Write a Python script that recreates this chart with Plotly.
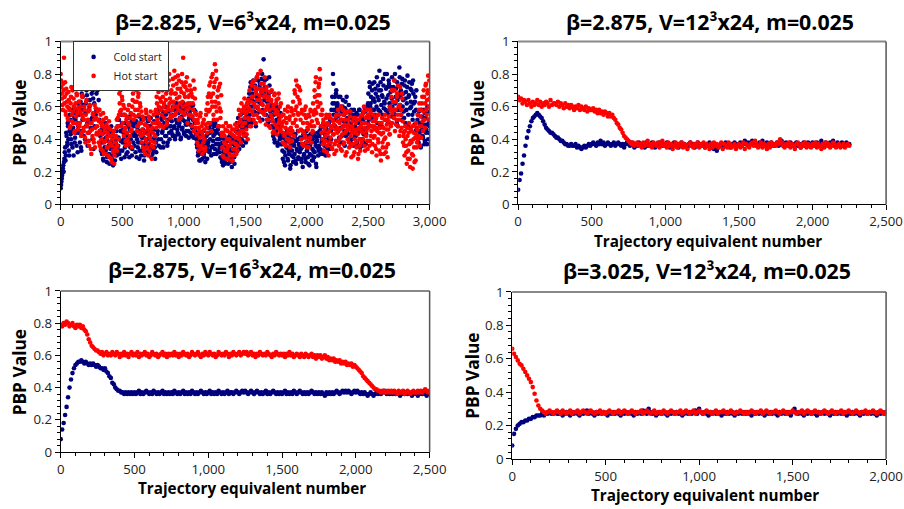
import numpy as np
import plotly.graph_objects as go

# Figure fills the browser page (body margin removed); it is drawn as a
# proportional copy of the 904x509 reference.
REF_W, REF_H = 904, 509
W, H = 920, 518
SX = REF_W / W

# ---------------- data (values in hundredths of PBP) ----------------
# Panel 1: beta=2.825, V=6^3x24
# set "a": trajectories 0,6,12,...,3000 ; set "b": trajectories 3,9,...,2997
p1_hot_a = [
    80,72,65,58,70,62,75,55,68,60,52,64,58,48,66,55,70,50,60,45,62,54,67,49,58,
    63,50,57,44,66,53,47,60,41,55,64,48,52,39,58,45,34,50,42,56,38,61,47,53,44,
    57,43,51,36,55,40,48,33,52,38,45,31,49,41,35,47,29,42,37,26,40,33,45,30,38,
    42,52,36,48,55,62,70,58,66,50,61,45,55,39,52,44,58,37,49,42,56,46,60,68,52,
    72,58,75,63,48,66,55,44,60,50,38,54,43,33,49,40,56,35,46,30,52,41,57,36,47,
    44,55,38,50,58,66,52,72,60,48,75,63,55,70,47,62,78,57,68,51,73,60,80,65,55,
    70,58,77,63,82,55,68,74,60,79,52,66,71,57,75,63,90,68,55,72,61,78,50,66,59,
    73,55,68,48,62,76,52,65,47,55,38,50,33,45,54,36,48,31,42,52,40,35,55,47,62,
    50,68,58,75,45,63,80,55,72,86,60,77,52,70,62,48,74,57,44,35,48,29,42,37,50,
    33,45,28,40,36,48,30,43,27,38,46,34,41,31,47,36,50,40,55,45,62,48,58,42,65,
    50,60,43,57,64,52,70,58,48,66,75,55,62,72,50,68,78,60,53,71,64,82,57,69,61,
    74,55,67,49,72,60,52,66,58,47,63,70,51,59,45,68,56,62,43,57,65,50,60,46,54,
    48,38,55,42,58,36,50,44,60,40,52,35,47,57,45,63,50,70,58,76,48,66,55,72,62,
    52,40,58,45,36,55,42,60,38,50,46,35,54,41,57,48,44,62,55,70,58,78,52,67,60,
    74,83,62,48,55,40,52,33,47,42,55,36,50,30,45,53,38,48,34,51,43,31,46,39,55,
    44,58,36,50,41,60,33,47,55,38,52,30,45,57,40,49,35,54,42,29,48,37,53,32,44,
    50,35,46,28,52,40,33,48,38,55,44,60,36,50,42,58,34,47,53,39,56,45,32,51,41,
    48,36,53,30,45,40,55,33,47,27,50,38,44,31,52,41,35,49,29,46,54,43,58,66,50,
    70,58,76,45,63,52,68,48,60,42,72,55,47,65,38,44,30,48,36,25,42,33,50,28,39,
    45,31,22,40,35,48,27,43,38,55,42,62,36,58,48,66,45,70,52,62,74,55,68,79,60,
    65,
]
p1_hot_b = [
    76,68,61,74,90,66,57,71,63,53,69,59,47,62,72,51,57,65,44,59,50,68,56,46,63,
    48,60,42,55,67,45,52,58,38,63,49,44,57,36,61,50,31,46,55,40,52,35,59,43,48,
    52,38,58,45,34,50,43,56,31,47,39,53,35,44,30,51,38,46,28,36,43,32,25,41,35,
    47,33,53,40,68,57,73,48,64,55,42,59,47,36,54,40,50,61,38,53,45,35,64,55,71,
    63,54,70,45,58,68,50,62,42,57,46,35,52,45,31,58,38,48,43,54,33,45,39,28,50,
    35,50,42,57,47,62,56,69,50,65,58,74,48,66,60,53,72,64,49,70,58,76,62,53,68,
    63,54,73,60,68,78,56,65,71,58,76,62,53,69,80,60,73,56,66,75,58,70,62,55,67,
    62,70,54,66,58,45,71,56,50,43,52,36,47,41,56,34,44,50,38,46,33,49,58,44,66,
    57,73,50,66,78,60,68,52,75,63,82,57,66,48,72,59,53,67,42,30,44,38,33,46,28,
    40,35,48,31,44,38,27,46,34,42,30,49,37,44,33,41,58,43,52,38,57,50,45,60,53,
    56,46,62,40,53,59,48,63,73,57,66,52,76,60,70,55,64,80,58,67,51,74,62,71,56,
    66,78,58,70,52,64,61,48,69,55,64,53,44,61,67,49,58,64,47,55,68,52,45,62,50,
    55,44,51,37,47,53,40,57,46,38,54,43,59,39,50,55,42,68,52,60,73,56,45,64,70,
    46,56,37,50,44,58,41,53,35,47,55,40,49,58,38,51,45,57,48,66,75,56,63,50,72,
    67,77,55,44,58,37,50,45,39,53,32,49,44,38,55,41,47,35,52,43,49,37,54,33,47,
    51,39,55,46,34,52,43,58,37,49,44,56,32,47,52,38,46,57,36,44,51,30,46,40,53,
    38,52,43,31,47,36,54,45,50,40,57,47,33,53,45,39,55,49,36,58,42,48,37,55,46,
    42,51,34,47,55,38,44,50,31,43,53,35,47,40,55,32,46,52,37,51,43,60,48,70,56,
    63,53,70,58,49,66,55,73,52,61,45,58,68,51,42,36,45,40,32,47,28,44,37,23,46,
    38,48,30,44,26,41,50,35,46,40,58,48,54,41,62,51,57,66,47,73,58,64,70,52,76,
]
p1_cold_a = [
    10,14,18,22,20,28,35,30,42,38,48,33,45,52,40,55,35,47,60,38,52,44,58,32,48,
    55,38,63,33,58,66,45,72,40,62,70,50,78,44,60,75,52,68,40,65,73,48,80,57,84,
    70,58,76,45,38,50,31,44,27,40,47,33,48,29,42,36,25,45,38,30,43,24,36,41,32,
    40,30,48,36,52,33,45,28,50,38,44,55,35,47,31,42,53,37,29,46,40,51,34,43,48,
    36,50,42,29,47,38,54,33,45,30,41,52,37,27,44,49,35,40,31,48,43,36,53,29,39,
    46,33,41,28,38,50,43,56,36,48,59,40,52,45,35,55,47,60,42,50,38,57,44,52,48,
    45,55,42,58,48,40,52,62,46,56,43,50,60,41,54,47,59,44,51,57,42,49,61,45,53,
    56,44,60,47,52,41,58,46,50,40,35,30,42,27,38,33,44,28,36,31,41,26,39,34,43,
    38,47,33,44,30,50,36,42,48,34,45,31,40,46,37,32,43,35,28,38,24,33,40,27,36,
    30,39,25,35,42,28,37,23,33,40,29,36,45,32,50,38,44,34,48,55,40,46,36,52,43,
    47,38,54,58,50,65,55,72,60,52,68,76,57,63,50,70,78,59,66,53,74,62,69,80,58,
    89,64,72,55,77,60,50,68,73,57,62,48,58,42,55,38,50,45,60,36,47,53,40,56,44,
    37,28,42,32,24,39,35,45,27,33,41,22,36,30,44,26,38,31,43,25,34,40,29,37,32,
    40,28,35,23,43,31,37,26,45,33,29,39,24,36,42,30,34,27,44,32,38,25,41,35,30,
    36,45,31,48,40,33,50,38,43,30,46,35,49,41,37,52,45,58,66,80,55,62,48,68,57,
    62,45,58,38,66,52,42,60,48,55,36,63,50,44,57,40,53,47,38,58,45,52,36,55,48,
    42,56,37,50,45,58,35,48,54,40,52,38,46,57,43,60,50,68,55,72,62,48,70,58,65,
    75,55,68,60,50,73,64,82,57,70,48,66,77,59,62,52,71,80,56,67,74,60,69,54,78,
    63,72,55,80,66,58,75,48,68,84,61,70,52,77,64,57,73,50,69,62,79,55,67,47,71,
    60,74,52,68,57,63,45,70,42,55,38,50,45,35,58,47,41,53,37,56,44,49,60,40,52,
    48,
]
p1_cold_b = [
    12,16,20,24,26,32,27,44,36,50,40,30,55,43,37,58,45,30,53,41,56,36,50,62,44,
    60,45,35,68,52,61,42,75,56,48,67,36,72,58,64,47,79,53,70,34,62,76,55,68,80,
    74,64,52,42,33,46,38,28,44,35,50,41,26,39,46,31,43,34,48,28,40,35,45,27,38,
    45,35,52,41,31,48,39,55,33,46,40,29,50,37,44,32,48,41,54,35,45,30,49,38,42,
    44,32,51,40,35,49,28,43,38,52,33,46,41,30,53,38,45,32,51,37,42,48,34,45,31,
    40,51,35,46,32,54,45,40,58,49,35,53,44,57,38,50,42,55,47,36,52,58,40,48,55,
    51,43,60,47,55,42,58,50,44,61,48,53,40,57,46,52,62,43,56,49,45,59,51,41,55,
    49,58,42,54,61,45,50,57,43,37,44,32,40,35,27,43,31,39,45,29,37,33,42,28,36,
    44,32,40,49,35,46,39,31,43,50,37,44,33,48,40,35,29,41,26,36,32,42,25,38,30,
    35,28,41,32,26,39,34,42,30,37,25,40,38,46,33,53,41,49,37,45,52,39,48,43,56,
    42,51,48,62,53,68,58,75,50,64,71,55,60,73,48,66,56,76,63,72,57,67,77,52,70,
    68,76,58,70,63,52,66,78,54,69,60,51,55,47,40,57,44,52,38,58,48,42,55,37,50,
    33,41,26,37,30,44,35,28,42,31,38,24,45,33,40,29,36,42,27,39,33,45,28,36,41,
    34,26,41,37,30,44,28,38,33,42,25,36,31,43,38,27,40,33,29,42,36,23,39,44,33,
    42,34,47,38,44,31,49,36,41,47,33,44,39,50,34,46,40,52,62,74,58,66,52,70,60,
    54,66,41,60,47,56,38,64,51,45,59,42,66,53,48,61,43,56,50,40,55,47,58,42,52,
    50,38,55,44,58,40,52,46,36,56,43,50,59,37,47,54,62,52,75,60,66,53,74,64,58,
    63,71,53,78,66,58,70,49,75,61,67,55,73,63,80,58,65,72,50,76,62,58,72,65,60,
    70,57,76,62,71,50,64,73,58,78,66,55,74,60,68,53,76,65,58,72,48,66,75,59,63,
    70,55,76,62,49,66,58,47,52,40,57,44,50,36,54,42,49,58,39,53,46,37,57,44,50,
]

# Panel 2: beta=2.875, V=12^3x24 ; every 10 trajectories, 0..2250
p2_hot = [
    66,64,65,62,64,63,61,64,62,60,63,61,62,64,61,63,60,62,61,63,62,60,64,61,62,
    62,61,63,60,62,61,59,62,60,61,59,61,60,58,60,59,61,58,60,59,58,60,57,59,58,
    58,59,57,58,56,58,56,57,55,57,56,54,56,54,55,53,52,50,49,47,46,44,42,41,40,
    39,38,37,38,36,37,38,36,37,35,38,36,37,39,36,37,35,38,37,36,38,35,37,39,36,
    37,35,38,36,37,34,36,38,35,37,36,38,35,37,36,34,37,38,36,35,37,36,38,35,37,
    36,38,35,37,36,34,37,35,38,36,37,35,36,38,34,37,36,35,38,37,35,36,37,34,36,
    37,35,36,38,34,37,36,35,37,38,36,39,37,35,36,38,35,37,36,34,37,35,38,36,37,
    36,38,37,40,38,36,35,37,36,38,35,37,36,34,37,38,36,35,37,36,38,35,37,36,35,
    37,36,38,35,37,36,34,37,35,38,36,37,35,36,38,37,35,36,37,35,36,37,35,36,37,
    36,
]
p2_cold = [
    9,15,19,25,30,36,41,45,48,51,53,54,55,56,55,54,53,51,49,47,46,45,44,44,43,
    42,41,41,40,39,39,38,37,37,36,36,37,36,36,37,35,36,35,34,35,36,35,36,37,36,
    37,38,37,36,38,37,39,37,38,36,37,38,37,36,37,38,36,37,38,37,36,37,35,37,38,
    37,36,38,37,35,37,36,38,37,36,37,35,38,36,37,36,38,37,35,37,36,38,37,36,37,
    36,38,37,35,37,36,38,36,37,35,37,38,36,37,36,35,37,38,36,37,35,36,38,37,36,
    37,36,35,37,36,38,35,36,34,35,33,35,36,37,35,36,38,37,36,35,37,36,38,37,36,
    37,38,36,37,39,37,38,36,38,39,37,38,36,37,38,37,39,36,37,38,36,37,38,37,36,
    37,38,36,37,39,37,36,38,37,36,38,37,36,37,38,36,37,35,37,38,36,37,38,36,37,
    38,36,37,38,36,37,39,37,36,38,37,36,38,37,39,36,37,38,37,36,38,37,36,38,37,
    37,
]

# Panel 3: beta=2.875, V=16^3x24 ; every 10 trajectories, 0..2500
p3_hot = [
    79,78,80,79,81,80,78,79,80,78,77,79,78,79,77,78,76,75,73,70,68,66,65,64,63,
    63,62,61,62,60,61,62,60,61,60,62,61,60,62,61,59,61,60,62,60,61,59,61,62,60,
    61,60,62,59,61,60,61,62,60,61,59,60,62,61,60,61,59,60,61,62,60,61,59,61,60,
    61,60,62,60,61,59,61,60,62,61,60,61,59,60,62,61,60,61,62,60,59,61,60,62,61,
    60,62,61,60,61,59,60,62,61,60,61,60,62,61,59,61,60,62,61,60,61,62,60,61,62,
    61,62,60,61,62,60,61,59,61,60,62,61,60,61,60,62,61,60,59,61,60,62,61,60,61,
    60,61,59,61,60,62,60,61,59,60,61,60,59,61,60,59,61,60,59,60,61,59,60,58,60,
    59,60,58,59,60,58,59,57,58,57,58,56,57,56,57,55,56,55,56,54,55,54,55,53,54,
    53,52,51,50,49,47,46,45,44,43,42,41,40,39,39,38,38,37,38,37,38,37,38,37,38,
    37,38,37,36,38,37,37,38,36,37,38,37,36,37,38,37,37,38,37,38,37,38,39,38,37,
    38,
]
p3_cold = [
    8,14,18,23,28,34,40,45,49,52,54,55,56,56,57,56,55,56,55,54,55,54,55,54,53,
    54,53,52,52,51,52,50,49,47,46,43,42,40,39,38,38,37,37,36,37,36,37,36,37,36,
    37,36,37,38,36,37,36,37,38,37,36,37,36,38,37,36,37,36,37,38,36,37,36,37,36,
    37,36,38,37,36,37,36,37,38,36,37,36,37,36,38,37,36,37,36,37,38,37,36,37,36,
    37,38,36,37,36,37,36,38,37,36,37,36,37,38,36,37,37,36,37,38,37,36,37,38,37,
    38,37,36,37,38,37,36,37,38,37,36,37,36,37,38,36,37,36,37,38,37,36,37,36,37,
    36,37,38,36,37,36,37,36,38,37,36,37,38,37,36,37,36,37,36,37,38,37,36,37,36,
    37,36,37,36,35,37,36,37,36,37,36,37,38,37,36,37,38,37,38,37,38,37,36,37,38,
    37,38,37,36,37,36,37,36,35,36,37,36,35,36,37,36,37,36,37,38,37,36,37,36,37,
    36,37,36,37,36,35,36,37,36,37,36,37,36,35,36,37,36,35,36,37,36,37,36,35,36,
    36,
]

# Panel 4: beta=3.025, V=12^3x24 ; every 10 trajectories, 0..2000
p4_hot = [
    66,63,61,59,57,56,54,52,50,48,46,43,39,35,32,30,29,28,27,28,29,28,27,28,29,
    28,27,29,28,27,28,29,27,28,28,29,27,28,29,28,27,28,29,28,27,28,28,29,27,28,
    27,28,29,28,27,28,28,29,27,28,29,28,27,28,29,28,27,28,28,29,27,28,29,28,27,
    28,29,27,28,28,27,29,28,27,28,29,28,27,28,28,29,27,28,29,28,27,28,29,27,28,
    29,28,27,28,29,28,28,27,28,29,27,28,28,29,28,27,28,29,28,27,28,28,29,28,27,
    28,27,28,29,28,27,28,28,29,27,28,29,28,27,28,28,29,28,27,28,29,28,27,28,28,
    29,28,27,28,28,29,27,28,29,28,27,28,29,28,28,27,28,29,28,27,28,29,28,27,28,
    28,29,27,28,28,29,28,27,28,29,28,27,28,28,29,27,28,28,29,28,27,28,29,28,27,
    28,
]
p4_cold = [
    8,15,18,20,21,22,22,23,23,24,24,25,25,26,26,26,27,26,27,27,28,27,27,28,27,
    27,28,26,27,28,27,26,28,27,28,27,26,28,27,28,29,27,28,27,26,28,27,28,27,28,
    27,26,28,27,28,27,28,27,26,28,27,28,27,28,27,26,28,27,28,27,29,28,27,30,28,
    27,28,26,27,28,27,28,27,26,28,27,28,27,28,27,28,26,27,28,27,28,27,28,29,27,
    30,28,27,28,27,26,28,27,28,27,28,27,26,28,27,28,27,28,27,26,28,27,28,27,28,
    27,28,27,26,28,27,28,27,28,27,26,28,27,28,27,28,27,26,28,27,28,27,28,27,26,
    28,30,28,27,28,27,26,28,27,28,27,28,27,26,28,27,28,27,28,27,26,28,27,28,27,
    28,27,28,27,26,28,27,28,27,28,27,26,28,27,28,27,28,27,28,27,26,28,27,28,27,
    28,
]

titles = ["β=2.825, V=6³x24, m=0.025", "β=2.875, V=12³x24, m=0.025",
          "β=2.875, V=16³x24, m=0.025", "β=3.025, V=12³x24, m=0.025"]
x_max = [3000, 2500, 2500, 2000]
x_label = "Trajectory equivalent number"
y_label = "PBP Value"
series_names = ["Cold start", "Hot start"]

# ---------------- layout geometry (pixels of the 904x509 reference) ----------------
plot_boxes = [  # left, top, right, bottom
    (57, 33, 428, 199),
    (517, 33, 887, 199),
    (57, 287, 428, 451),
    (511, 288, 887, 458),
]
title_pos = [(250, 13), (710, 13), (249, 265), (707, 266)]
xlab_pos = [(249, 236), (708, 236), (249, 488), (705, 495)]
ylab_pos = [(16, 116), (477, 116), (16, 370), (471, 373)]

def px(x):
    return x / REF_W

def py(y):
    return 1 - y / REF_H

def fs(size):
    return size / SX

COLD = "#00007f"
HOT = "#ff0000"
FONT = "Open Sans"

def series(vals_list, steps, offsets):
    xs = np.concatenate([np.arange(len(v)) * s + o for v, s, o in zip(vals_list, steps, offsets)])
    ys = np.concatenate([np.array(v) / 100.0 for v in vals_list])
    return xs, ys

panels = [
    (series([p1_cold_a, p1_cold_b], [6, 6], [0, 3]), series([p1_hot_a, p1_hot_b], [6, 6], [0, 3]), 4.6),
    (series([p2_cold], [10], [0]), series([p2_hot], [10], [0]), 4.6),
    (series([p3_cold], [10], [0]), series([p3_hot], [10], [0]), 4.6),
    (series([p4_cold], [10], [0]), series([p4_hot], [10], [0]), 4.6),
]

fig = go.Figure()
shapes = []
annotations = []
for i, (cold, hot, msize) in enumerate(panels):
    n = i + 1
    xa = "x" if n == 1 else f"x{n}"
    ya = "y" if n == 1 else f"y{n}"
    for (xs, ys), name, col in ((cold, series_names[0], COLD), (hot, series_names[1], HOT)):
        fig.add_trace(go.Scatter(
            x=xs, y=ys, mode="markers", name=name,
            marker=dict(color=col, size=msize, line=dict(width=0)),
            xaxis=xa, yaxis=ya, showlegend=(n == 1),
        ))
    l, t, r, b = plot_boxes[i]
    axkw = dict(showline=True, linecolor="#000", linewidth=1, ticks="outside",
                ticklen=5, tickwidth=1, tickcolor="#000", showgrid=False, zeroline=False,
                tickfont=dict(family=FONT, size=fs(13), color="#222"))
    fig.layout[f"xaxis{n if n > 1 else ''}"] = go.layout.XAxis(
        domain=[px(l), px(r)], range=[0, x_max[i]], dtick=500, tickformat=",d",
        anchor=ya, minor=dict(dtick=100, ticks="outside", ticklen=3, tickcolor="#000", showgrid=False),
        **axkw)
    fig.layout[f"yaxis{n if n > 1 else ''}"] = go.layout.YAxis(
        domain=[py(b), py(t)], range=[0, 1], dtick=0.2,
        anchor=xa, minor=dict(dtick=0.04, ticks="outside", ticklen=3, tickcolor="#000", showgrid=False),
        **axkw)
    shapes.append(dict(type="line", xref=f"{xa} domain", yref=f"{ya} domain",
                       x0=0, x1=1, y0=1, y1=1, line=dict(color="#888", width=2)))
    shapes.append(dict(type="line", xref=f"{xa} domain", yref=f"{ya} domain",
                       x0=1, x1=1, y0=0, y1=1, line=dict(color="#555", width=1.5)))
    tx, ty = title_pos[i]
    annotations.append(dict(text=titles[i], x=px(tx), y=py(ty), xref="paper", yref="paper",
                            xanchor="center", yanchor="middle", showarrow=False,
                            font=dict(family=FONT, size=fs(21), color="#000", weight="bold")))
    lx, ly = xlab_pos[i]
    annotations.append(dict(text=x_label, x=px(lx), y=py(ly), xref="paper", yref="paper",
                            xanchor="center", yanchor="middle", showarrow=False,
                            font=dict(family=FONT, size=fs(15), color="#000", weight="bold")))
    yx, yy = ylab_pos[i]
    annotations.append(dict(text=y_label, x=px(yx), y=py(yy), xref="paper", yref="paper",
                            xanchor="center", yanchor="middle", showarrow=False, textangle=-90,
                            font=dict(family=FONT, size=fs(17), color="#000", weight="bold")))

fig.update_layout(
    width=W, height=H, margin=dict(l=0, r=0, t=0, b=0),
    paper_bgcolor="white", plot_bgcolor="white",
    shapes=shapes, annotations=annotations,
    hovermode=False,
    legend=dict(x=px(69), y=py(33), xanchor="left", yanchor="top",
                bgcolor="white", bordercolor="#333", borderwidth=1,
                font=dict(family=FONT, size=fs(10.5), color="#222"), tracegroupgap=0),
    showlegend=True,
)

fig.write_html("out.html", config={"displayModeBar": False},
               post_script="document.body.style.margin='0px';")
